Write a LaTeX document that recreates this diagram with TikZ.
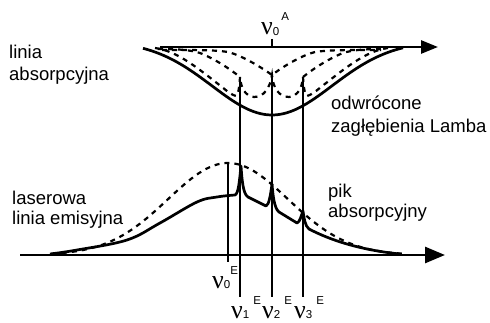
\documentclass[tikz,border=0pt]{standalone}
\usepackage{fontspec}
\setmainfont{Liberation Sans}
\newfontfamily\nuf{Liberation Serif}
\usetikzlibrary{arrows.meta}
\newcommand\nuglyph{{\nuf\fontsize{26}{26}\selectfont ν}}
\newcommand\smlf{\fontsize{11.5}{11.5}\selectfont}
\newcommand\nulab[3]{\nuglyph\raisebox{-0.5pt}{\smlf #1}\kern#3\raisebox{14pt}{\smlf #2}}
\begin{document}
\begin{tikzpicture}[x=1pt,y=-1pt,
  ax/.style={line width=2.7pt, -{Triangle[length=17pt,width=13pt]}},
  axb/.style={line width=2.7pt, -{Triangle[length=20pt,width=16pt]}},
  curve/.style={line width=2.7pt, line join=round},
  dsh/.style={line width=2.2pt, dash pattern=on 5pt off 5pt},
  vline/.style={line width=2.1pt},
  thinv/.style={line width=1.5pt},
  lbl/.style={font=\fontsize{18.5}{21}\selectfont, anchor=base west, inner sep=0pt},
  nul/.style={anchor=base west, inner sep=0pt}]
\useasboundingbox (0,0) rectangle (490,323);

% axes
\coordinate (aS) at (160,47); \coordinate (aE) at (438,47);
\coordinate (eS) at (20,255); \coordinate (eE) at (445,255);
\draw[ax] (aS) -- (aE);
\draw[axb] (eS) -- (eE);

% nu0A tick
\coordinate (tkA1) at (272,39); \coordinate (tkA2) at (272,47);
\draw[line width=1.2pt] (tkA1) -- (tkA2);

% absorption solid curve
\draw[curve] plot[domain=-129:131, samples=90] ({272+\x},{48+74*(exp(-0.5*(\x/60)*(\x/60))-0.095)});

% dashed curves (absorption)
\draw[dsh] (162,50) .. controls (200,50) and (215,50) .. (228,52)
  .. controls (240,55) and (258,65) .. (272,75)
  .. controls (285,65) and (303,55) .. (315,52)
  .. controls (328,50) and (343,50) .. (381,50);
\draw[dsh] (158,49) .. controls (180,49) and (190,50) .. (200,53)
  .. controls (215,59) and (230,69) .. (240,77);
\draw[dsh] (303,77) .. controls (313,69) and (328,59) .. (343,53)
  .. controls (353,50) and (363,49) .. (385,49);
\draw[dsh] (155,48) .. controls (178,51) and (200,70) .. (222,87)
  .. controls (228,92) and (232,95) .. (236,96)
  .. controls (238.5,95) and (239.5,85) .. (240,77)
  .. controls (241,88) and (245,96) .. (254,97)
  .. controls (264,97) and (270,88) .. (272,75)
  .. controls (273,88) and (279,97) .. (289,97)
  .. controls (298,96) and (302,88) .. (303,77)
  .. controls (303.5,85) and (304.5,95) .. (307,96)
  .. controls (311,95) and (315,92) .. (321,87)
  .. controls (343,70) and (365,51) .. (388,48);

% emission dashed gaussian
\draw[dsh] plot[domain=-176:176, samples=90] ({228+\x},{255-92*exp(-0.5*(\x/60)*(\x/60))});

% emission solid curve with absorption peaks
\draw[curve] plot[smooth, tension=0.6] coordinates {(50,254) (77,250) (127,240) (160,223) (197,202) (217,197) (235,195)}
  .. controls (238.5,194) and (239.5,180) .. (241,166)
  .. controls (242,180) and (243,194) .. (248,197)
  -- (266,206)
  .. controls (269,205) and (270.5,195) .. (272,184)
  .. controls (273,195) and (274,208) .. (279,212)
  -- (297,223)
  .. controls (300,222) and (301,216) .. (303,211)
  .. controls (304,218) and (305,226) .. (309,229)
  .. controls (330,240) and (360,250) .. (400,254);

% vertical lines
\coordinate (v1t) at (240,77);  \coordinate (v1b) at (240,297);
\coordinate (v2t) at (272,75);  \coordinate (v2b) at (272,297);
\coordinate (v3t) at (303,77);  \coordinate (v3b) at (303,297);
\coordinate (v0t) at (228,163); \coordinate (v0b) at (228,262);
\draw[vline] (v1t) -- (v1b);
\draw[vline] (v2t) -- (v2b);
\draw[vline] (v3t) -- (v3b);
\draw[thinv] (v0t) -- (v0b);

% text labels
\node[lbl] (tA1) at (9,59) {linia};
\node[lbl] (tA2) at (9,81) {absorpcyjna};
\node[lbl] (tL1) at (331,110) {odwrócone};
\node[lbl] (tL2) at (331,133) {zagłębienia Lamba};
\node[lbl] (tE1) at (12,205) {laserowa};
\node[lbl] (tE2) at (12,225) {linia emisyjna};
\node[lbl] (tP1) at (328,198) {pik};
\node[lbl] (tP2) at (328,218) {absorpcyjny};

% nu labels
\node[nul] (n0A) at (261,35) {\nulab{0}{A}{2pt}};
\node[nul] (n0E) at (212,288) {\nulab{0}{E}{0pt}};
\node[nul] (n1E) at (231,318) {\nulab{1}{E}{4pt}};
\node[nul] (n2E) at (262,318) {\nulab{2}{E}{4pt}};
\node[nul] (n3E) at (294,318) {\nulab{3}{E}{4pt}};
\end{tikzpicture}
\end{document}
